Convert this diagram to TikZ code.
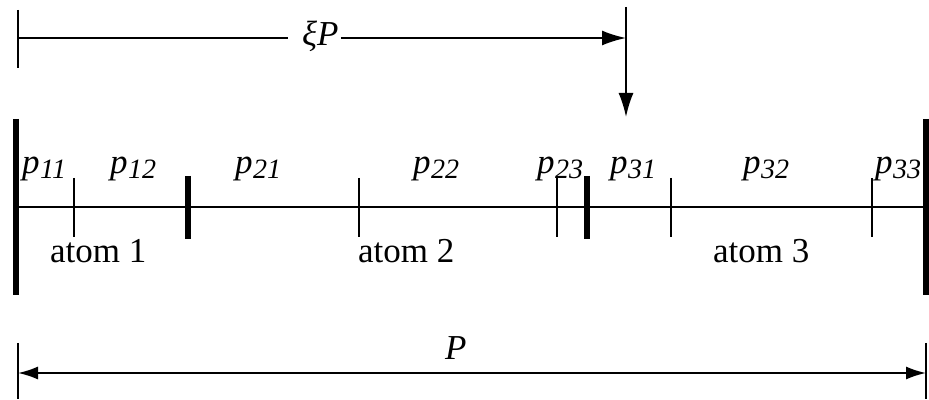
\documentclass[tikz,border=0pt]{standalone}
\usepackage{fontspec}
\setmainfont{Liberation Serif}
\usetikzlibrary{arrows.meta}
\newcommand\plab[1]{\itshape p\kern0.5pt\raisebox{-5pt}{\fontsize{28}{28}\selectfont #1}}
\tikzset{
  lbl/.style={inner sep=0pt, anchor=base west, font=\fontsize{35}{35}\selectfont},
  thin/.style={line width=1.8pt},
  mid/.style={line width=2.8pt},
  thick/.style={line width=6pt},
  tip/.style={-{Latex[length=24pt,width=15pt]}},
  tips/.style={{Latex[length=20pt,width=13pt]}-{Latex[length=20pt,width=13pt]}}
}
\begin{document}
\begin{tikzpicture}[x=1pt,y=1pt]
\useasboundingbox (0,0) rectangle (929,399);
% top xi P dimension
\coordinate (t1) at (18,389);
\coordinate (t2) at (18,331);
\coordinate (tL) at (18,361);
\coordinate (v1) at (626,392);
\coordinate (vR) at (626,361);
\coordinate (v2) at (626,282);
\node[lbl] (xi) at (302,353) {\itshape ξP};
\draw[thin] (t1) -- (t2);
\draw[thin] (tL) -- ([xshift=-14pt]xi.west |- tL);
\draw[thin,tip] ([xshift=2pt]xi.east |- vR) -- (vR);
\draw[thin] (v1) -- (vR);
\draw[thin,tip] (vR) -- (v2);
% main line
\coordinate (mL) at (16,192);
\coordinate (mR) at (926,192);
\draw[thin] (mL) -- (mR);
\coordinate (bL1) at (16,280); \coordinate (bL2) at (16,104);
\coordinate (bR1) at (926,280); \coordinate (bR2) at (926,104);
\draw[thick] (bL1) -- (bL2);
\draw[thick] (bR1) -- (bR2);
% ticks
\coordinate (a1) at (74,221); \coordinate (a2) at (74,162);
\draw[mid] (a1) -- (a2);
\coordinate (b1) at (188,223); \coordinate (b2) at (188,160);
\draw[thick] (b1) -- (b2);
\coordinate (c1) at (359,221); \coordinate (c2) at (359,162);
\draw[thin] (c1) -- (c2);
\coordinate (d1) at (557,221); \coordinate (d2) at (557,162);
\draw[thin] (d1) -- (d2);
\coordinate (e1) at (587,223); \coordinate (e2) at (587,160);
\draw[thick] (e1) -- (e2);
\coordinate (f1) at (671,221); \coordinate (f2) at (671,162);
\draw[thin] (f1) -- (f2);
\coordinate (g1) at (872,221); \coordinate (g2) at (872,162);
\draw[thin] (g1) -- (g2);
% p labels
\node[lbl] (p11) at (22,225) {\plab{11}};
\node[lbl] (p12) at (110,225) {\plab{12}};
\node[lbl] (p21) at (235,225) {\plab{21}};
\node[lbl] (p22) at (413,225) {\plab{22}};
\node[lbl] (p23) at (537,225) {\plab{23}};
\node[lbl] (p31) at (610,225) {\plab{31}};
\node[lbl] (p32) at (743,225) {\plab{32}};
\node[lbl] (p33) at (875,225) {\plab{33}};
% atom labels
\node[lbl] (at1) at (50,136) {atom 1};
\node[lbl] (at2) at (358,136) {atom 2};
\node[lbl] (at3) at (713,136) {atom 3};
% bottom P dimension
\coordinate (q1) at (18,56); \coordinate (q2) at (18,0);
\coordinate (r1) at (926,56); \coordinate (r2) at (926,0);
\coordinate (qm) at (18,26); \coordinate (rm) at (926,26);
\draw[thin] (q1) -- (q2);
\draw[thin] (r1) -- (r2);
\draw[thin,tips] (qm) -- (rm);
\node[lbl] (P) at (445,39) {\itshape P};
\end{tikzpicture}
\end{document}
